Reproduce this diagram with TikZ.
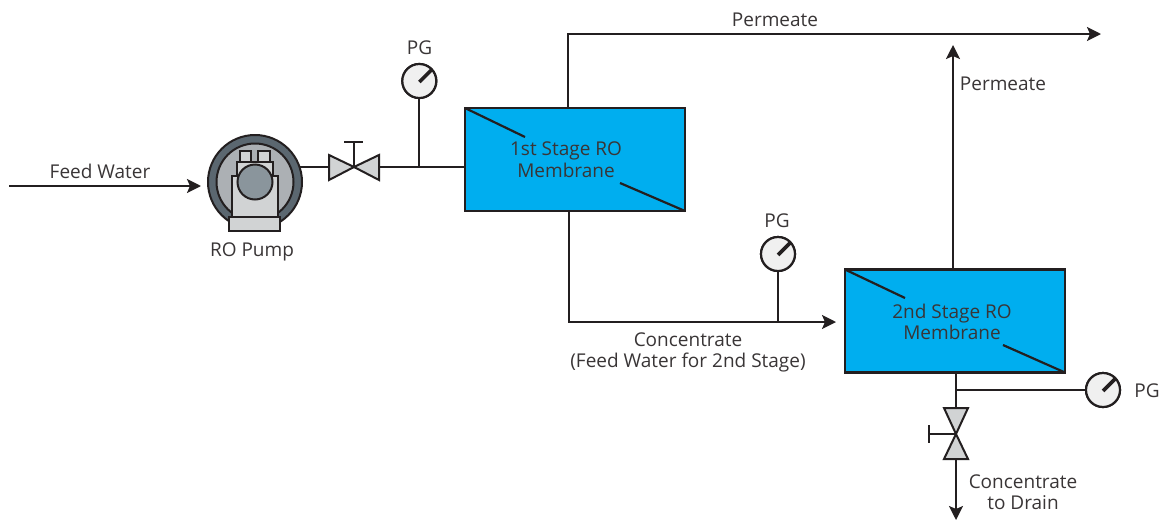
\documentclass[tikz,border=0pt]{standalone}
\usepackage{fontspec}
\setmainfont{Open Sans}
\usetikzlibrary{arrows.meta,calc}
\definecolor{ink}{HTML}{231F20}
\definecolor{rowater}{HTML}{00AEEF}
\definecolor{valvegray}{HTML}{D1D3D4}
\definecolor{pumpdark}{HTML}{5B6770}
\definecolor{pumpmid}{HTML}{ACB0B4}
\definecolor{pumpcore}{HTML}{8A959C}
\tikzset{
  x=1pt,y=-1pt,
  line/.style={draw=ink,line width=2.2pt},
  flow/.style={line,-{Stealth[length=14pt,width=14pt,inset=3pt]}},
  membrane/.style={draw=ink,line width=2.4pt,fill=rowater,minimum width=220pt,minimum height=103pt,inner sep=0pt,outer sep=0pt},
  gauge/.style={circle,draw=ink,line width=2.2pt,fill=gray!12,minimum size=34pt,inner sep=0pt,outer sep=0pt},
  needle/.style={draw=ink,line width=3.6pt},
  vbody/.style={draw=ink,line width=2pt,fill=valvegray,line join=miter},
  pumppart/.style={draw=ink,line width=2pt},
  lbl/.style={text=ink!90,font=\fontsize{19}{21.5}\selectfont,align=center,inner sep=0pt},
}
\begin{document}
\begin{tikzpicture}
\useasboundingbox (0,0) rectangle (1162,520);
% membranes
\node[membrane] (m1) at (575,159.5) {};
\node[membrane] (m2) at (955,321) {};
% gauges
\node[gauge] (g1) at (419.3,81) {};
\node[gauge] (g2) at (778,254) {};
\node[gauge] (g3) at (1103,390) {};
% free ends and junctions
\coordinate (feedstart) at (9,186);
\coordinate (feedend) at (201,186);
\coordinate (permout) at (1101,34);
\coordinate (permcorner) at (568,34);
\coordinate (perm2out) at (953,45);
\coordinate (conccorner) at (569,322);
\coordinate (concend) at (836,322);
\coordinate (drain) at (956,520);
\coordinate (v1) at (354,167);
\coordinate (v2) at (956,434);
\coordinate (pumpc) at (255,182);
\coordinate (j1) at (419.3,167);
\coordinate (j2) at (778,322);
\coordinate (j3) at (956,390);
% connectors
\draw[flow] (feedstart) -- (feedend);
\draw[line] (pumpc |- v1) -- (v1);
\draw[line] (v1) -- (m1.west |- v1);
\draw[line] (g1) -- (j1);
\draw[flow] (m1.north -| permcorner) -- (permcorner) -- (permout);
\draw[flow] (m2.north -| perm2out) -- (perm2out);
\draw[flow] (m1.south -| conccorner) -- (conccorner) -- (concend);
\draw[line] (g2) -- (j2);
\draw[flow] (m2.south -| drain) -- (drain);
\draw[line] (j3) -- (g3);
% gauges above their stems
\foreach \g in {g1,g2,g3}{\node[gauge] at (\g) {}; \draw[needle] ($(\g)+(0,1)$) -- ($(\g)+(12,-11)$);}
% membrane diagonals
\draw[line] (m1.north west) -- (525,137);
\draw[line] (620,183) -- (m1.south east);
\draw[line] (m2.north west) -- (905,298);
\draw[line] (1003,345) -- (m2.south east);
% valve 1
\draw[vbody] (v1) -- (329,155) -- (329,180) -- cycle;
\draw[vbody] (v1) -- (379,155) -- (379,180) -- cycle;
\draw[line] (v1) -- (354,142);
\draw[line] (344,142) -- (363,142);
% valve 2
\draw[vbody] (v2) -- (944,408) -- (968,408) -- cycle;
\draw[vbody] (v2) -- (944,459) -- (968,459) -- cycle;
\draw[line] (v2) -- (929,434);
\draw[line] (929,425) -- (929,443);
% pump
\draw[pumppart,fill=pumpdark] (pumpc) circle[radius=47];
\draw[pumppart,fill=pumpmid] (pumpc) circle[radius=38.5];
\draw[pumppart,fill=valvegray] (240,151) rectangle (251,162);
\draw[pumppart,fill=valvegray] (258,151) rectangle (270,162);
\draw[pumppart,fill=valvegray] (237,162) rectangle (273,176);
\draw[pumppart,fill=valvegray] (232,176) rectangle (278,217);
\draw[pumppart,fill=valvegray] (229,217) rectangle (280,231);
\draw[pumppart,fill=pumpcore] (pumpc) circle[radius=17.5];
% labels
\node[lbl] (t1) at (100,171.5) {Feed Water};
\node[lbl] (t2) at (252,252) {RO Pump};
\node[lbl] (t3) at (419.5,48) {PG};
\node[lbl] (t4) at (775,20) {Permeate};
\node[lbl] (t5) at (1003,84) {Permeate};
\node[lbl] (t6) at (566,159.5) {1st Stage RO\\Membrane};
\node[lbl] (t7) at (952,322) {2nd Stage RO\\Membrane};
\node[lbl] (t8) at (777,221) {PG};
\node[lbl] (t9) at (688,352.5) {Concentrate\\(Feed Water for 2nd Stage)};
\node[lbl] (t10) at (1147,391) {PG};
\node[lbl] (t11) at (1023,492) {Concentrate\\to Drain};
\end{tikzpicture}
\end{document}
